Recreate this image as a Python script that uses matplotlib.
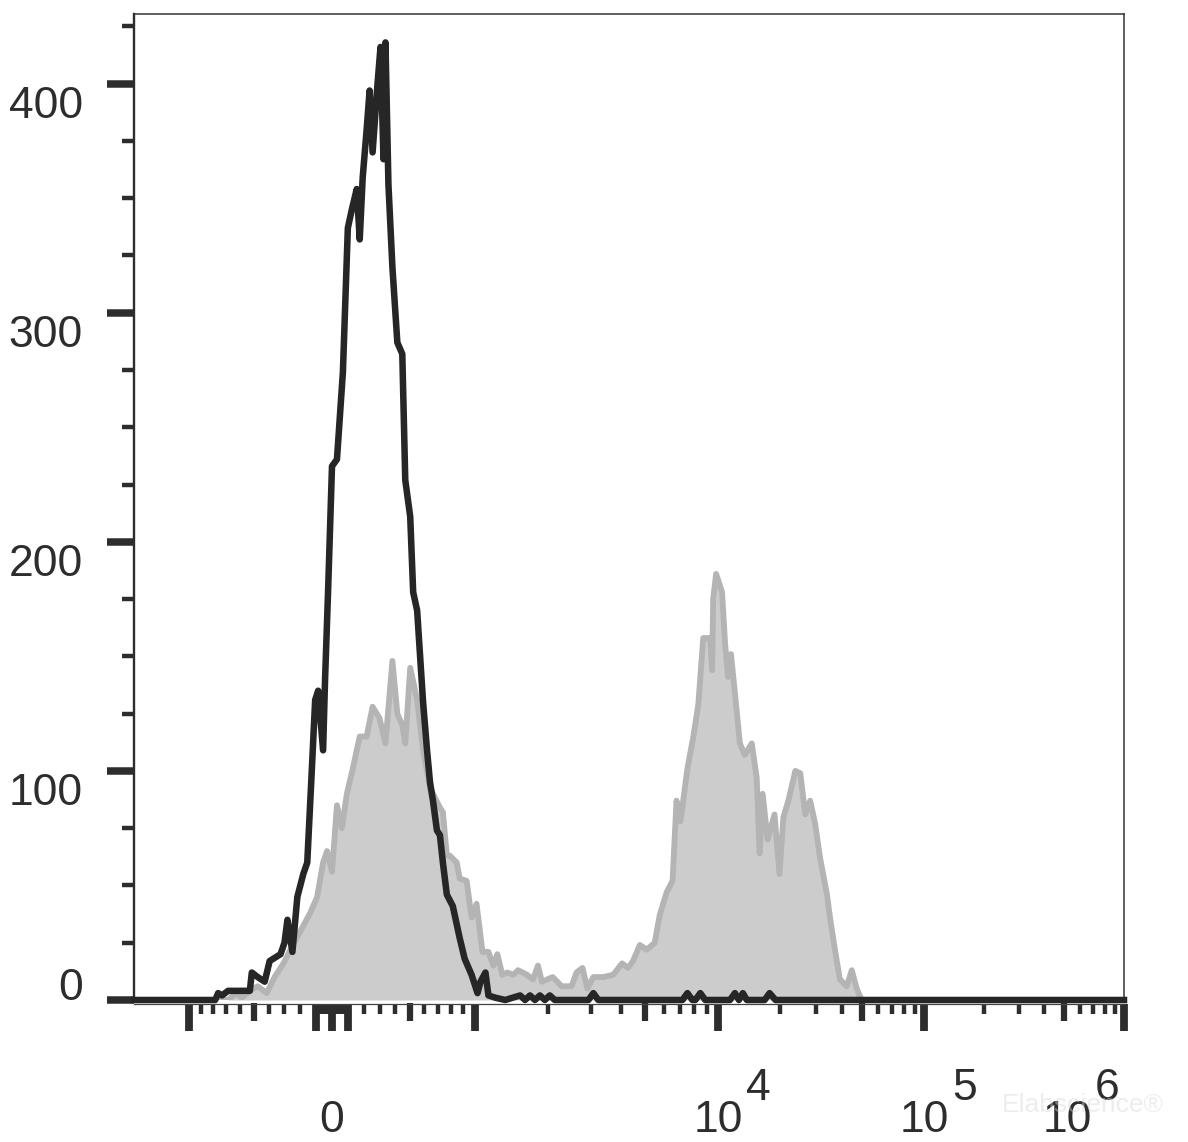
import numpy as np
import matplotlib
matplotlib.use("Agg")
import matplotlib.pyplot as plt
from matplotlib.transforms import ScaledTranslation, blended_transform_factory

plt.rcParams['font.family'] = ['Liberation Sans', 'DejaVu Sans']

# ---------------- data (display channel 0..1000, event counts) ----------------
black_ch = [0, 82, 85, 89, 95, 117, 119, 125, 132, 137, 148, 152, 155, 160, 165,
            171, 175, 179, 183, 186, 191, 193, 196, 200, 205, 211, 216, 220, 225,
            228, 231, 235, 238, 241, 246, 249, 252, 254, 257, 261, 266, 271, 274,
            279, 282, 286, 289, 292, 296, 299, 302, 306, 309, 312, 316, 322, 329,
            334, 341, 347, 350, 355, 358, 365, 375, 390, 395, 400, 405, 410, 415,
            420, 425, 459, 464, 469, 554, 559, 564, 567, 572, 577, 602, 607, 611,
            615, 619, 637, 642, 648, 1000]
black_count = [0, 0, 3, 2, 4, 4, 12, 10, 8, 17, 20, 25, 35, 21, 45,
               55, 60, 95, 131, 135, 109, 140, 178, 233, 236, 274, 337, 345, 354,
               332, 359, 380, 397, 370, 400, 416, 367, 418, 356, 320, 287, 282, 227,
               211, 178, 170, 150, 130, 109, 95, 87, 74, 72, 60, 46, 41, 27,
               18, 11, 3, 8, 12, 2, 1, 0, 2, 0, 2, 0, 2, 0,
               2, 0, 0, 3, 0, 0, 3, 0, 0, 3, 0, 0, 3, 0,
               3, 0, 0, 3, 0, 0]

grey_ch = [0, 95, 103, 109, 117, 125, 134, 142, 151, 158, 168, 178, 185, 191, 195,
           200, 205, 210, 215, 221, 228, 235, 241, 248, 254, 261, 266, 271, 274,
           279, 286, 292, 299, 302, 309, 312, 316, 319, 326, 329, 336, 341, 346,
           352, 358, 363, 367, 372, 377, 383, 388, 397, 403, 408, 412, 423, 432,
           442, 447, 453, 458, 464, 474, 484, 493, 499, 504, 511, 518, 526, 531,
           538, 544, 548, 552, 559, 565, 570, 575, 582, 584, 585, 588, 594, 597,
           600, 603, 607, 612, 617, 624, 629, 632, 635, 640, 647, 652, 656, 661,
           668, 673, 678, 683, 688, 693, 700, 703, 708, 713, 720, 725, 730, 735,
           1000]
grey_count = [0, 0, 3, 1, 4, 6, 3, 10, 16, 22, 30, 38, 45, 60, 65,
              56, 85, 75, 90, 101, 115, 115, 128, 123, 112, 148, 125, 120, 112,
              145, 131, 109, 93, 90, 84, 82, 63, 63, 60, 53, 52, 36, 42,
              21, 21, 15, 20, 11, 12, 11, 13, 11, 9, 15, 8, 10, 6,
              6, 12, 14, 5, 10, 10, 11, 16, 14, 17, 24, 22, 25, 37,
              47, 52, 87, 78, 101, 115, 129, 158, 158, 144, 175, 186, 178, 156,
              141, 151, 134, 112, 107, 112, 97, 64, 90, 70, 81, 55, 80, 87,
              100, 99, 81, 87, 77, 62, 46, 36, 22, 9, 6, 13, 5, 0,
              0]

# y axis ticks
y_major = [0, 100, 200, 300, 400]
y_minor = [25, 50, 75, 125, 150, 175, 225, 250, 275, 325, 350, 375, 425]
y_labels = ['0', '100', '200', '300', '400']

# x axis (fluorescence) ticks
x_major_vals = [-1000, -100, 0, 100, 1000, 1e4, 1e5, 1e6]
x_mid_vals = [-500, 500, 5e3, 5e4, 5e5]
x_minor_vals = ([s * m * 10 for s in (-1, 1) for m in range(1, 10)]
                + [s * m * 100 for s in (-1, 1) for m in (2, 3, 4, 6, 7, 8, 9)]
                + [m * 10.0 ** e for e in (3, 4, 5) for m in (2, 3, 4, 6, 7, 8, 9)])
x_label_vals = [0, 1e4, 1e5, 1e6]
x_label_base = ['0', '10', '10', '10']
x_label_exp = ['', '4', '5', '6']

# ---------------- biexponential display mapping (value -> channel) ----------------
ZERO_CH, HALF_CH = 200.0, 144.4
DEC_EXP = [3, 4, 5, 6]
DEC_CH = [344.4, 589.9, 798.0, 1000.0]


def to_ch(v):
    v = np.asarray(v, dtype=float)
    lin = ZERO_CH + HALF_CH * np.arcsinh(v / 1000.0) / np.arcsinh(1.0)
    logp = np.interp(np.log10(np.maximum(v, 1000.0)), DEC_EXP, DEC_CH)
    return np.where(v > 1000, logp, lin)


# ---------------- figure ----------------
W, H = 1188, 1142
fig = plt.figure(figsize=(W / 100, H / 100), dpi=100)
ax = fig.add_axes([134 / W, 1 - 1000 / H, 990 / W, 986 / H])
ax.set_xlim(0, 1000)
ax.set_ylim(0, 430.4)

ink = '#2d2d2d'
ax.fill_between(grey_ch, grey_count, 0, color='#cccccc', lw=0, zorder=1)
ax.plot(grey_ch, grey_count, color='#b4b4b4', lw=4.2, zorder=2)
ax.plot(black_ch, black_count, color='#262626', lw=4.7, zorder=3, clip_on=False)

# spines
for side in ('top', 'right'):
    ax.spines[side].set_linewidth(1.1)
    ax.spines[side].set_color('#333333')
ax.spines['left'].set_linewidth(1.7)
ax.spines['left'].set_color(ink)
ax.spines['bottom'].set_position(('outward', 3))
ax.spines['bottom'].set_linewidth(0.9)
ax.spines['bottom'].set_color('#444444')

# y ticks
ax.set_yticks(y_major)
ax.set_yticks(y_minor, minor=True)
ax.tick_params(axis='y', which='major', direction='out', length=19.4, width=5.4,
               color=ink, labelleft=False, right=False)
ax.tick_params(axis='y', which='minor', direction='out', length=8.6, width=3.2,
               color=ink, right=False)

# x ticks
ax.set_xticks(to_ch(x_major_vals))
ax.set_xticks(to_ch(x_minor_vals), minor=True)
ax.tick_params(axis='x', which='major', direction='out', length=19.4, width=5.6,
               color=ink, labelbottom=False, top=False)
ax.tick_params(axis='x', which='minor', direction='out', length=7.2, width=3.2,
               color=ink, top=False)

sec = ax.secondary_xaxis(-3.0 / 986)
sec.spines['bottom'].set_visible(False)
sec.set_xticks(to_ch(x_mid_vals))
sec.tick_params(axis='x', which='major', direction='out', length=13, width=4.5,
                color=ink, labelbottom=False)

# y labels
font = dict(fontsize=32, color=ink)
ytrans = blended_transform_factory(ax.transAxes, ax.transData)
for v, s in zip(y_major, y_labels):
    dy = 0 if v == 0 else -34
    t = ytrans + ScaledTranslation(0, dy / 100, fig.dpi_scale_trans)
    ax.text(-51 / 990, v, s, transform=t, ha='right', va='baseline', **font)

# x labels
xtrans = ax.get_xaxis_transform()
px_per_ch = 990 / 1000
for v, base, ex in zip(x_label_vals, x_label_base, x_label_exp):
    xc = float(to_ch(v))
    shift = min(0.0, (1000 - xc) * px_per_ch - 57) if ex else 0.0
    t1 = xtrans + ScaledTranslation(shift / 100, -132 / 100, fig.dpi_scale_trans)
    ax.text(xc, 0, base, transform=t1, ha='center', va='baseline', **font)
    if ex:
        t2 = xtrans + ScaledTranslation((shift + 28) / 100, -100 / 100, fig.dpi_scale_trans)
        ax.text(xc, 0, ex, transform=t2, ha='left', va='baseline', **font)

# faint watermark (overlaps the 10^6 label in the original too)
fig.text(1002 / W, 1 - 1112 / H, 'Elabscience®', color='#d8d8d8', alpha=0.45,
         fontsize=19, ha='left', va='baseline')

fig.savefig('out.png', dpi=100)
